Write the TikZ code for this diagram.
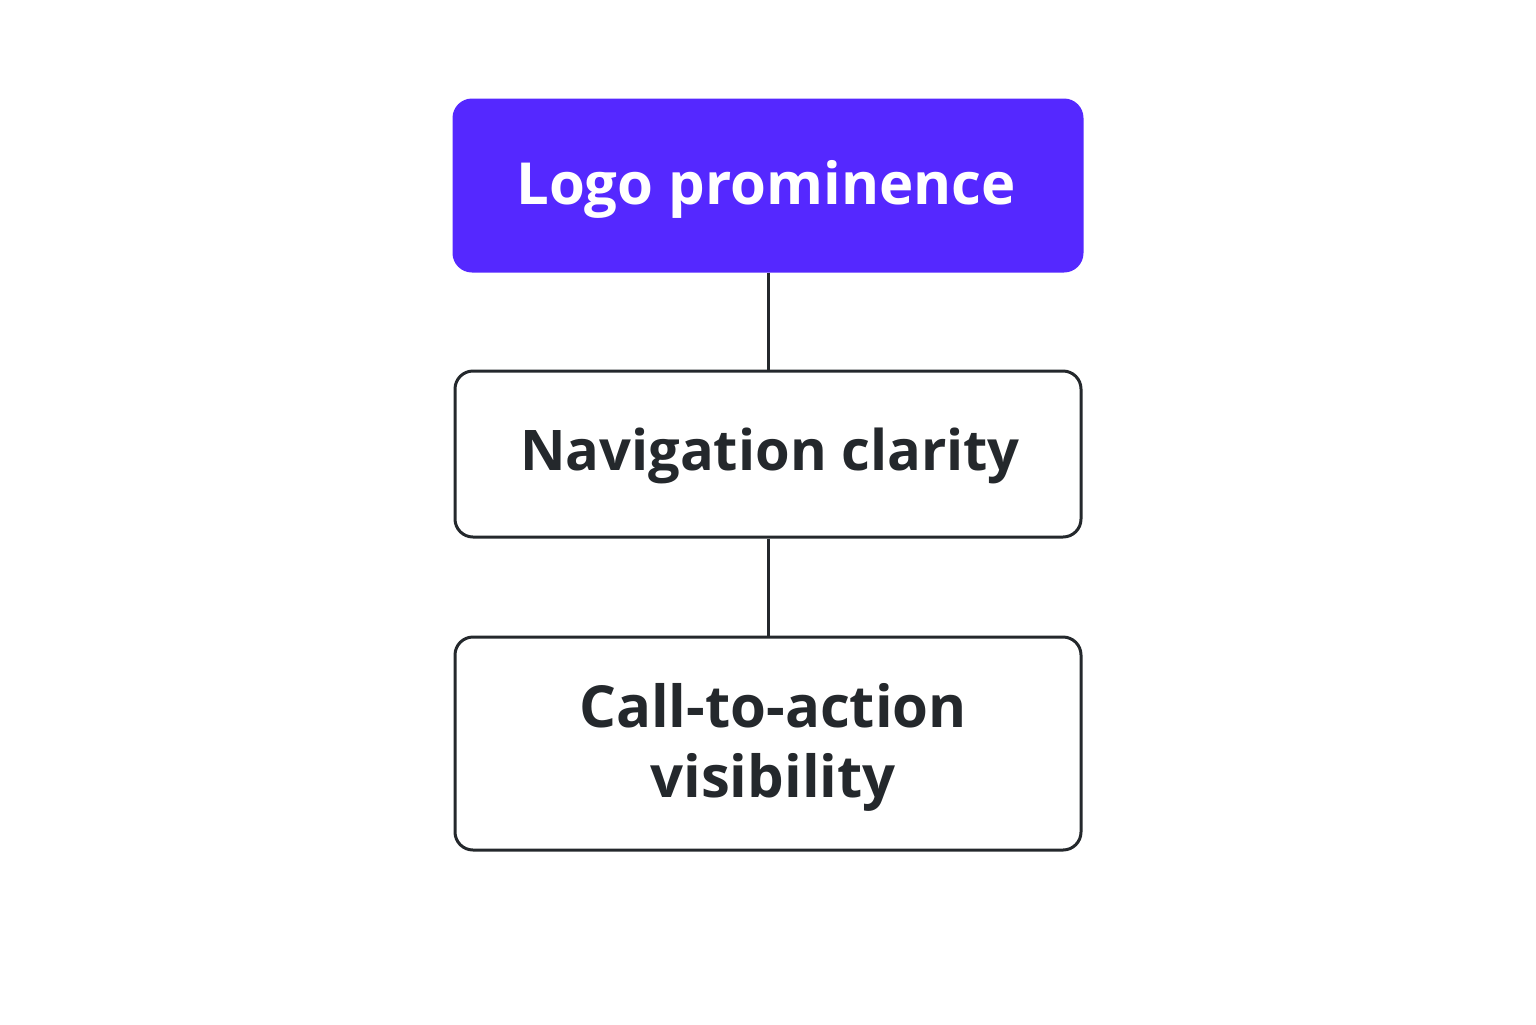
\documentclass[tikz,border=0pt]{standalone}
\usepackage{fontspec}
\setmainfont{Open Sans}
\definecolor{purp}{HTML}{5528FF}
\definecolor{ink}{HTML}{24282C}
\begin{document}
\begin{tikzpicture}[x=0.5pt,y=-0.5pt,
  box/.style={draw=ink,line width=1.5pt,rounded corners=9pt,fill=white,inner sep=0pt},
  lbl/.style={align=center,inner sep=0pt,text=ink,font=\bfseries\fontsize{29}{35}\selectfont},
  conn/.style={draw=ink,line width=1.5pt}]
\fill[white] (0,0) rectangle (1536,1024);
\useasboundingbox (0,0) rectangle (1536,1024);
\node[box,fill=purp,draw=purp,minimum width=314pt,minimum height=85.5pt] (logo) at (768,185.5) {};
\node[box,minimum width=313pt,minimum height=83pt] (nav) at (768,454) {};
\node[box,minimum width=313pt,minimum height=106.5pt] (cta) at (768,743.5) {};
\node[lbl,text=white] (logot) at (766,189) {Logo prominence};
\node[lbl,font=\bfseries\fontsize{28}{35}\selectfont] (navt) at (770,456) {Navigation clarity};
\node[lbl] (ctat) at (773,747) {Call-to-action\\visibility};
\draw[conn] (logo.south) -- (nav.north);
\draw[conn] (nav.south) -- (cta.north);
\end{tikzpicture}
\end{document}
